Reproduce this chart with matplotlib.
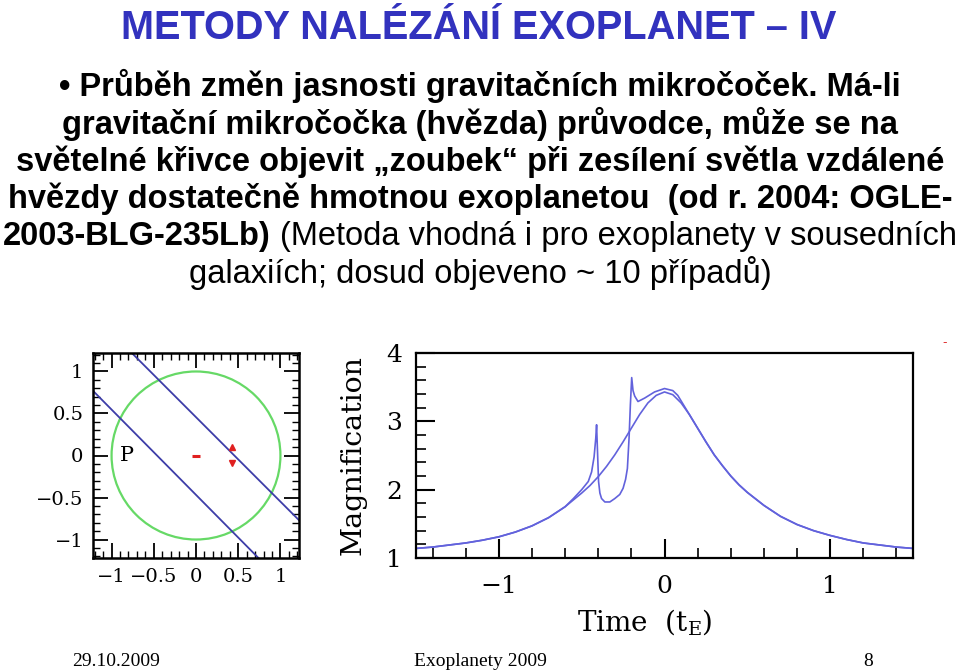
import matplotlib.pyplot as plt
from matplotlib.patches import Circle
from matplotlib.ticker import MultipleLocator

plt.rcParams['mathtext.fontset'] = 'dejavuserif'

# slide texts
title = "METODY NALÉZÁNÍ EXOPLANET – IV"
bold_lines = [
    "• Průběh změn jasnosti gravitačních mikročoček. Má-li",
    "gravitační mikročočka (hvězda) průvodce, může se na",
    "světelné křivce objevit „zoubek“ při zesílení světla vzdálené",
    "hvězdy dostatečně hmotnou exoplanetou  (od r. 2004: OGLE-",
]
mixed_bold = "2003-BLG-235Lb)"
mixed_normal = "(Metoda vhodná i pro exoplanety v sousedních"
last_line = "galaxiích; dosud objeveno ~ 10 případů)"
footer_date = "29.10.2009"
footer_mid = "Exoplanety 2009"
footer_page = "8"

# left panel: lens plane
einstein_r = 1.0
traj1_x = [-0.76, 1.22]
traj1_y = [1.22, -0.77]
traj2_x = [-1.22, 0.74]
traj2_y = [0.77, -1.22]
lens_x = [0.0]
lens_y = [0.0]
caustic_x = [0.43, 0.43]
caustic_y = [0.10, -0.09]
plane_ticks = [-1, -0.5, 0, 0.5, 1]
plane_labels = ["\u22121", "\u22120.5", "0", "0.5", "1"]

# right panel: light curves (time in t_E, magnification)
smooth_t = [-1.5, -1.4, -1.3, -1.2, -1.1, -1.0, -0.9, -0.8, -0.7, -0.6, -0.55, -0.5,
            -0.45, -0.4, -0.35, -0.3, -0.25, -0.2, -0.15, -0.1, -0.05, 0.0, 0.05,
            0.1, 0.15, 0.2, 0.25, 0.3, 0.35, 0.4, 0.45, 0.5, 0.6, 0.7, 0.8, 0.9,
            1.0, 1.1, 1.2, 1.3, 1.4, 1.5]
smooth_A = [1.14, 1.16, 1.19, 1.22, 1.26, 1.31, 1.38, 1.47, 1.59, 1.75, 1.85, 1.95,
            2.06, 2.19, 2.34, 2.51, 2.70, 2.90, 3.10, 3.27, 3.38, 3.43, 3.39,
            3.27, 3.10, 2.90, 2.70, 2.51, 2.35, 2.20, 2.07, 1.96, 1.77, 1.61, 1.49, 1.40,
            1.33, 1.27, 1.22, 1.19, 1.16, 1.14]
bump_t = [-0.55, -0.50, -0.46, -0.44, -0.425, -0.415, -0.41, -0.405, -0.398, -0.39,
          -0.38, -0.36, -0.33, -0.30, -0.27, -0.25, -0.235, -0.224, -0.214, -0.206,
          -0.198, -0.19, -0.18, -0.16, -0.12, -0.06, 0.0, 0.05, 0.08, 0.12, 0.15]
bump_A = [1.87, 2.00, 2.12, 2.26, 2.48, 2.75, 2.95, 2.60, 2.12, 1.95,
          1.87, 1.82, 1.82, 1.87, 1.93, 2.02, 2.15, 2.31, 2.75, 3.24,
          3.64, 3.45, 3.37, 3.29, 3.34, 3.43, 3.48, 3.45, 3.38, 3.22, 3.10]

W, H = 960, 672
fig = plt.figure(figsize=(9.6, 6.72), dpi=100)


def fy(py):
    return 1 - py / H


sans = 'Liberation Sans'
body_size = 23.5

fig.text(0.4985, fy(39), title, ha='center', va='baseline', family=sans,
         weight='bold', size=28.6, color='#3232be')

baselines = [96, 134, 171, 208, 245, 283]
for line, b in zip(bold_lines, baselines):
    fig.text(0.5, fy(b), line, ha='center', va='baseline', family=sans,
             weight='bold', size=body_size)

# line with bold and normal parts, centred together
r = fig.canvas.get_renderer()
t1 = fig.text(0, fy(baselines[4]), mixed_bold, va='baseline', family=sans,
              weight='bold', size=body_size)
t2 = fig.text(0, fy(baselines[4]), mixed_normal, va='baseline', family=sans,
              size=body_size)
w1 = t1.get_window_extent(r).width
w2 = t2.get_window_extent(r).width
gap = 9
x0 = (W - w1 - gap - w2) / 2
t1.set_x(x0 / W)
t2.set_x((x0 + w1 + gap) / W)

fig.text(0.5, fy(baselines[5]), last_line, ha='center', va='baseline',
         family=sans, size=body_size)

serif = 'Liberation Serif'
fig.text(72 / W, fy(666), footer_date, ha='left', va='baseline', family=serif, size=14)
fig.text(0.5, fy(666), footer_mid, ha='center', va='baseline', family=serif, size=14)
fig.text(868 / W, fy(666), footer_page, ha='center', va='baseline', family=serif, size=14)
fig.text(945 / W, fy(343), "-", ha='center', va='center', color='#e03030', size=9)

# left panel
ax1 = fig.add_axes([93 / W, 1 - 558 / H, 206 / W, 205 / H])
ax1.add_patch(Circle((0, 0), einstein_r, fill=False, ec='#66d966', lw=1.6))
ax1.plot(traj1_x, traj1_y, color='#3d3da8', lw=1.3)
ax1.plot(traj2_x, traj2_y, color='#3d3da8', lw=1.3)
ax1.plot(lens_x, lens_y, ls='none', marker='_', ms=6, mew=2.2, color='#e02020')
ax1.plot(caustic_x[:1], caustic_y[:1], ls='none', marker='^', ms=4.5, color='#e02020')
ax1.plot(caustic_x[1:], caustic_y[1:], ls='none', marker='v', ms=4.5, color='#e02020')
ax1.text(-0.82, 0, "P", ha='center', va='center', family='DejaVu Serif', size=15)
ax1.set_xlim(-1.22, 1.22)
ax1.set_ylim(-1.22, 1.22)
ax1.set_xticks(plane_ticks, labels=plane_labels)
ax1.set_yticks(plane_ticks, labels=plane_labels)
ax1.xaxis.set_minor_locator(MultipleLocator(0.1))
ax1.yaxis.set_minor_locator(MultipleLocator(0.1))
ax1.tick_params(which='both', direction='in', top=True, right=True)
ax1.tick_params(which='major', length=11, width=1.3, labelsize=14, pad=7)
ax1.tick_params(which='minor', length=5, width=1.0)
for lab in ax1.get_xticklabels() + ax1.get_yticklabels():
    lab.set_family('DejaVu Serif')
for s in ax1.spines.values():
    s.set_linewidth(1.8)

# right panel
ax2 = fig.add_axes([416 / W, 1 - 558 / H, 497 / W, 205 / H])
planet_t = [t for t in smooth_t if t < bump_t[0]] + bump_t + [t for t in smooth_t if t > bump_t[-1]]
planet_A = ([a for t, a in zip(smooth_t, smooth_A) if t < bump_t[0]] + bump_A
            + [a for t, a in zip(smooth_t, smooth_A) if t > bump_t[-1]])
ax2.plot(smooth_t, smooth_A, color='#6262dc', lw=1.2)
ax2.plot(planet_t, planet_A, color='#6262dc', lw=1.2)
ax2.set_xlim(-1.5, 1.5)
ax2.set_ylim(1, 4)
ax2.xaxis.set_major_locator(MultipleLocator(1))
ax2.xaxis.set_minor_locator(MultipleLocator(0.2))
ax2.yaxis.set_major_locator(MultipleLocator(1))
ax2.yaxis.set_minor_locator(MultipleLocator(0.2))
ax2.tick_params(which='both', direction='in', top=False, right=False)
ax2.tick_params(which='major', length=14, width=1.5, labelsize=18)
ax2.tick_params(axis='x', which='major', pad=12)
ax2.tick_params(axis='y', which='major', pad=10)
ax2.tick_params(which='minor', length=7, width=1.2)
for lab in ax2.get_xticklabels() + ax2.get_yticklabels():
    lab.set_family('DejaVu Serif')
for s in ax2.spines.values():
    s.set_linewidth(1.6)
ax2.set_ylabel("Magnification", family='DejaVu Serif', size=20.5)
ax2.yaxis.set_label_coords(-0.10, 0.5)
ax2.set_xlabel("Time  (t$_\\mathregular{E}$)", family='DejaVu Serif', size=20)
ax2.xaxis.set_label_coords(0.46, -0.24)

fig.savefig("out.png", dpi=100)
plt.close(fig)
